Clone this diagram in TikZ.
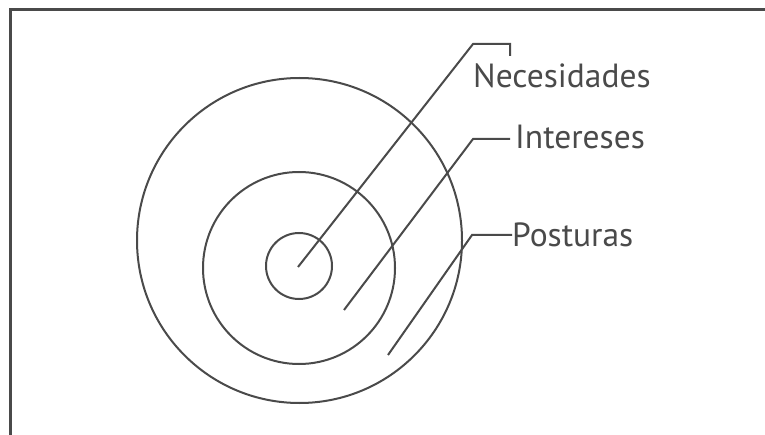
\documentclass[tikz,border=0pt]{standalone}
\usepackage{fontspec}
\setmainfont{PT Sans}
\definecolor{ink}{HTML}{4A4A4A}
\begin{document}
\begin{tikzpicture}[x=1pt,y=1pt,
  ring/.style={circle,draw=ink,line width=2pt,inner sep=0pt},
  lbl/.style={inner sep=0pt,anchor=base west,text=ink,font=\fontsize{33.5}{38}\selectfont},
  lead/.style={draw=ink,line width=2pt}]
\useasboundingbox (0,0) rectangle (765,434);
\fill[white] (0,0) rectangle (765,434);
% frame (only left and top sides are visible)
\draw[ink,line width=2.4pt] (10.5,-5) -- (10.5,424.5) -- (770,424.5);
% circles
\node[ring,minimum size=325pt] (outer) at (299.5,193.5) {};
\node[ring,minimum size=192pt] (middle) at (299,166) {};
\node[ring,minimum size=66pt] (inner) at (299,168) {};
% labels
\node[lbl] (nec) at (473,346) {Necesidades};
\node[lbl] (int) at (515,285) {Intereses};
\node[lbl] (pos) at (512,187) {Posturas};
% leader points
\coordinate (n0) at (298,167);
\coordinate (n1) at (473,390);
\coordinate (n2) at (510,390);
\coordinate (n3) at (510,378);
\coordinate (i0) at (344,124);
\coordinate (i1) at (473,295);
\coordinate (i2) at (510,295);
\coordinate (p0) at (388,79);
\coordinate (p1) at (472,199);
\coordinate (p2) at (512,199);
\path[lead] (n0) -- (n1) -- (n2) -- (n3);
\path[lead] (i0) -- (i1) -- (i2);
\path[lead] (p0) -- (p1) -- (p2);
\end{tikzpicture}
\end{document}
